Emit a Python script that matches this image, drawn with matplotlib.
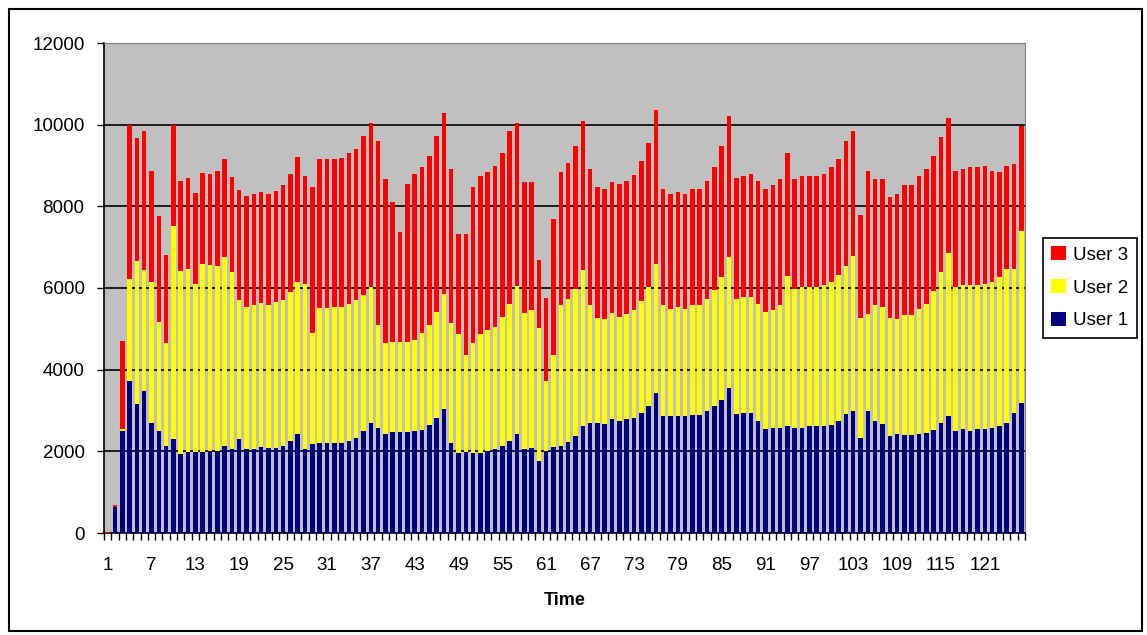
import matplotlib
matplotlib.use("Agg")
import matplotlib.pyplot as plt
import numpy as np

plt.rcParams['font.family'] = ['Liberation Sans', 'DejaVu Sans']

# per-time values for each user (stacked)
user1 = [0, 630, 2500, 3720, 3160, 3470, 2700, 2490, 2120, 2300,
         1930, 1990, 1990, 1980, 2000, 2000, 2120, 2050, 2300, 2050,
         2050, 2100, 2080, 2080, 2120, 2250, 2420, 2050, 2170, 2200,
         2200, 2200, 2200, 2250, 2320, 2490, 2690, 2570, 2420, 2470,
         2470, 2470, 2490, 2520, 2640, 2810, 3030, 2200, 1950, 1980,
         1950, 1950, 2000, 2050, 2120, 2250, 2420, 2050, 2080, 1760,
         2000, 2100, 2120, 2220, 2370, 2610, 2690, 2690, 2660, 2790,
         2740, 2790, 2810, 2930, 3100, 3420, 2860, 2860, 2860, 2860,
         2880, 2880, 2980, 3100, 3250, 3550, 2910, 2930, 2930, 2740,
         2540, 2570, 2570, 2610, 2570, 2570, 2610, 2610, 2610, 2640,
         2740, 2910, 2980, 2320, 2980, 2740, 2660, 2370, 2420, 2390,
         2390, 2420, 2440, 2520, 2690, 2860, 2490, 2540, 2490, 2540,
         2540, 2570, 2610, 2690, 2930, 3180]
user2 = [0, 0, 40, 2500, 3500, 2970, 3440, 2670, 2530, 5220,
         4480, 4470, 4110, 4610, 4560, 4540, 4640, 4340, 3400, 3480,
         3530, 3530, 3500, 3570, 3580, 3650, 3720, 4050, 2720, 3310,
         3310, 3330, 3330, 3350, 3380, 3340, 3330, 2520, 2230, 2200,
         2200, 2200, 2230, 2370, 2450, 2600, 2820, 2940, 2920, 2380,
         2700, 2920, 2970, 2990, 3170, 3350, 3630, 3330, 3380, 3260,
         1720, 2260, 3460, 3510, 3600, 3830, 2890, 2570, 2580, 2590,
         2550, 2570, 2650, 2750, 2920, 3170, 2720, 2620, 2670, 2620,
         2700, 2700, 2750, 2850, 3020, 3210, 2820, 2850, 2850, 2860,
         2870, 2890, 3010, 3680, 3400, 3450, 3410, 3410, 3460, 3500,
         3580, 3630, 3800, 2940, 2380, 2840, 2870, 2890, 2820, 2950,
         2950, 3060, 3170, 3400, 3700, 4000, 3530, 3530, 3580, 3530,
         3560, 3570, 3660, 3770, 3530, 4210]
user3 = [30, 50, 2160, 3770, 3010, 3410, 2720, 2600, 2160, 2460,
         2210, 2230, 2230, 2230, 2230, 2320, 2400, 2330, 2700, 2720,
         2720, 2720, 2720, 2720, 2820, 2890, 3070, 2640, 3580, 3650,
         3650, 3630, 3650, 3710, 3700, 3890, 4020, 4510, 4020, 3430,
         2700, 3880, 4070, 4070, 4140, 4310, 4440, 3770, 2450, 2960,
         3820, 3870, 3870, 3950, 4020, 4250, 3990, 3220, 3140, 1660,
         2030, 3330, 3260, 3330, 3510, 3650, 3330, 3210, 3180, 3220,
         3260, 3260, 3310, 3430, 3530, 3770, 2840, 2820, 2820, 2820,
         2840, 2840, 2890, 3010, 3210, 3450, 2960, 2960, 3010, 3020,
         3010, 3060, 3090, 3020, 2700, 2720, 2720, 2720, 2720, 2820,
         2840, 3060, 3070, 2530, 3500, 3090, 3140, 2970, 3060, 3180,
         3180, 3260, 3300, 3310, 3310, 3300, 2840, 2840, 2890, 2890,
         2890, 2720, 2570, 2530, 2580, 2580]

time = np.arange(1, len(user1) + 1)
u1 = np.array(user1)
u2 = np.array(user2)
u3 = np.array(user3)

fig = plt.figure(figsize=(11.47, 6.35), dpi=100)
W, H = 1147, 635
ax = fig.add_axes([104 / W, 1 - 533 / H, (1025 - 104) / W, (533 - 43) / H])
ax.set_facecolor('#C0C0C0')

b1 = ax.bar(time, u1, 0.62, color='#000080', label='User 1', zorder=3)
b2 = ax.bar(time, u2, 0.62, bottom=u1, color='#FFFF00', label='User 2', zorder=3)
b3 = ax.bar(time, u3, 0.62, bottom=u1 + u2, color='#FF0000', label='User 3', zorder=3)

ax.set_xlim(0.5, len(time) + 0.5)
ax.set_ylim(0, 12000)
ax.set_yticks(np.arange(0, 12001, 2000))
ax.yaxis.grid(True, color='black', linewidth=1.2, zorder=1)
ax.set_axisbelow(True)

ax.set_xticks(time[::6])
ax.set_xticks(np.arange(0.5, len(time) + 1, 1), minor=True)
ax.tick_params(axis='x', which='major', length=0, pad=17, labelsize=13.5)
ax.tick_params(axis='x', which='minor', length=5, width=1, direction='out')
ax.tick_params(axis='y', length=5, width=1, direction='out', pad=9, labelsize=13.5)

for s in ['top', 'right']:
    ax.spines[s].set_color('#808080')
for s in ['left', 'bottom']:
    ax.spines[s].set_color('black')
    ax.spines[s].set_linewidth(1.2)

ax.set_xlabel('Time', fontsize=13, fontweight='bold', labelpad=13)

leg = ax.legend(handles=[b3, b2, b1], loc='upper left',
                bbox_to_anchor=(1043 / W, 1 - 238 / H), bbox_transform=fig.transFigure,
                fontsize=13.5, fancybox=False, edgecolor='black', framealpha=1,
                handlelength=0.75, handleheight=0.75, handletextpad=0.4,
                labelspacing=0.82, borderpad=0.45, borderaxespad=0)
leg.get_frame().set_linewidth(1.2)

# outer chart border
fig.add_artist(plt.Rectangle((9 / W, 4 / H), (1142 - 9) / W, (626 - 4) / H,
                             transform=fig.transFigure, fill=False,
                             edgecolor='black', linewidth=1.5))

fig.savefig('out.png', dpi=100)
